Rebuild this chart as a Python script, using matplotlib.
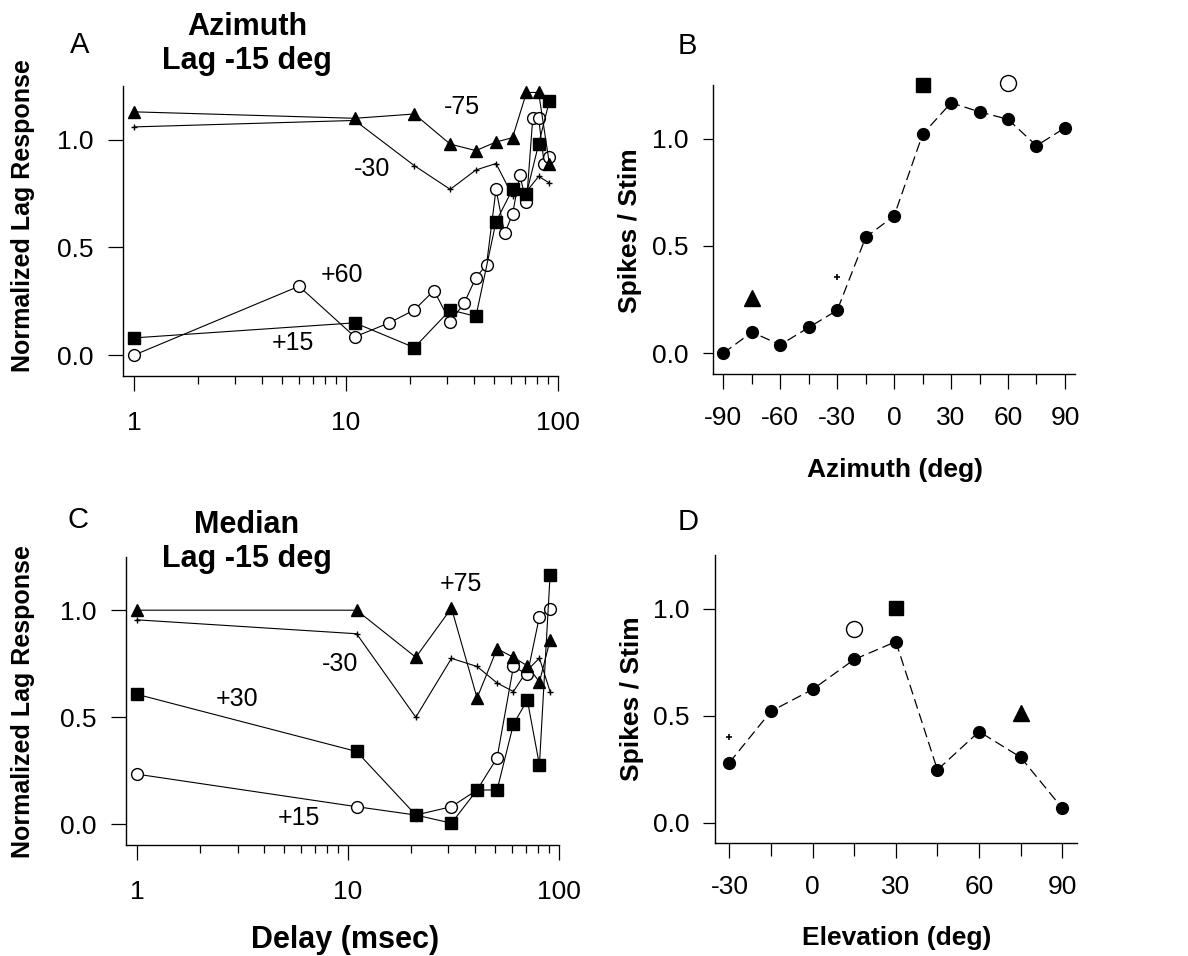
import numpy as np
import matplotlib
matplotlib.use('Agg')
import matplotlib.pyplot as plt
from matplotlib.ticker import FixedLocator, NullFormatter

plt.rcParams['font.family'] = ['Liberation Sans', 'DejaVu Sans']

# delays (msec)
delay10 = [1, 11, 21, 31, 41, 51, 61, 71, 81, 91]
delay5 = [1, 6, 11, 16, 21, 26, 31, 36, 41, 46, 51, 56, 61, 66, 71, 76, 81, 86, 91]

# panel A - azimuth, lag -15 deg
a_m75 = [1.13, 1.10, 1.12, 0.98, 0.95, 0.99, 1.01, 1.22, 1.22, 0.89]
a_m30 = [1.06, 1.09, 0.88, 0.77, 0.86, 0.89, 0.74, 0.76, 0.83, 0.80]
a_p15 = [0.08, 0.15, 0.035, 0.21, 0.18, 0.62, 0.77, 0.75, 0.98, 1.18]
a_p60 = [0.0, 0.32, 0.085, 0.15, 0.21, 0.30, 0.155, 0.24, 0.36, 0.42,
         0.77, 0.565, 0.655, 0.835, 0.71, 1.10, 1.10, 0.89, 0.92]

# panel C - median, lag -15 deg
c_p75 = [1.0, 1.0, 0.78, 1.01, 0.59, 0.82, 0.78, 0.74, 0.665, 0.86]
c_m30 = [0.955, 0.89, 0.50, 0.775, 0.737, 0.66, 0.62, 0.72, 0.776, 0.62]
c_p30 = [0.607, 0.34, 0.043, 0.005, 0.16, 0.16, 0.468, 0.58, 0.277, 1.165]
c_p15 = [0.234, 0.082, 0.043, 0.082, 0.16, 0.31, 0.737, 0.70, 0.97, 1.005]

# panel B - spikes vs azimuth
azim = [-90, -75, -60, -45, -30, -15, 0, 15, 30, 45, 60, 75, 90]
b_rate = [0.0, 0.098, 0.039, 0.12, 0.20, 0.54, 0.64, 1.02, 1.167, 1.125, 1.09, 0.967, 1.05]
b_sym_x = [-75, -30, 15, 60]
b_sym_y = [0.257, 0.353, 1.252, 1.26]

# panel D - spikes vs elevation
elev = [-30, -15, 0, 15, 30, 45, 60, 75, 90]
d_rate = [0.28, 0.52, 0.622, 0.762, 0.845, 0.246, 0.425, 0.305, 0.067]
d_sym_x = [-30, 15, 30, 75]
d_sym_y = [0.40, 0.904, 1.003, 0.51]

# symbols: triangle, plus, square, open circle
sym_tri = dict(marker='^', color='k', ms=9, mfc='k', mec='k')
sym_plus = dict(marker='+', color='k', ms=4, mew=1.0)
sym_sq = dict(marker='s', color='k', ms=8.5, mfc='k', mec='k')
sym_circ = dict(marker='o', color='k', ms=8.5, mfc='white', mec='k', mew=1.0)

W, H = 1188, 956
fig = plt.figure(figsize=(W / 100, H / 100), dpi=100)


def px(x, y):
    return x / W, 1 - y / H


def style_axes(ax):
    ax.spines['top'].set_visible(False)
    ax.spines['right'].set_visible(False)
    ax.spines['left'].set_linewidth(1.0)
    ax.spines['bottom'].set_linewidth(1.0)
    ax.set_ylim(-0.097, 1.25)
    ax.set_yticks([0.0, 0.5, 1.0])
    ax.set_yticklabels(['0.0', '0.5', '1.0'])
    for lab in ax.get_xticklabels() + ax.get_yticklabels():
        lab.set_fontsize(19)


def delay_axes(rect):
    ax = fig.add_axes(rect)
    ax.set_xscale('log')
    ax.set_xlim(0.887, 100.3)
    ax.xaxis.set_major_locator(FixedLocator([1, 10, 100]))
    ax.xaxis.set_minor_locator(FixedLocator([2, 3, 4, 5, 6, 7, 8, 9, 20, 30, 40, 50, 60, 70, 80, 90]))
    ax.xaxis.set_minor_formatter(NullFormatter())
    ax.set_xticks([1, 10, 100])
    ax.set_xticklabels(['1', '10', '100'])
    ax.tick_params(axis='x', which='major', length=11, width=0.9, pad=14, direction='out')
    ax.tick_params(axis='x', which='minor', length=6, width=0.9, direction='out')
    ax.tick_params(axis='y', length=11, width=0.9, pad=10, direction='out')
    style_axes(ax)
    return ax


lw = 0.8

# ---------- A ----------
axA = delay_axes([0.10354, 0.60669, 0.36641, 0.30335])
axA.plot(delay10, a_m30, lw=lw, **sym_plus)
axA.plot(delay5, a_p60, lw=lw, **sym_circ)
axA.plot(delay10, a_p15, lw=lw, **sym_sq)
axA.plot(delay10, a_m75, lw=lw, **sym_tri)
for t, x, y in [('-75', 35.1, 1.153), ('-30', 13.2, 0.864), ('+60', 9.55, 0.374), ('+15', 5.64, 0.054)]:
    axA.text(x, y, t, fontsize=18, ha='center', va='center')

# ---------- C ----------
axC = delay_axes([0.10606, 0.11611, 0.36448, 0.30157])
axC.plot(delay10, c_m30, lw=lw, **sym_plus)
axC.plot(delay10, c_p15, lw=lw, **sym_circ)
axC.plot(delay10, c_p30, lw=lw, **sym_sq)
axC.plot(delay10, c_p75, lw=lw, **sym_tri)
for t, x, y in [('+75', 34.3, 1.123), ('-30', 9.2, 0.75), ('+30', 2.97, 0.584), ('+15', 5.84, 0.028)]:
    axC.text(x, y, t, fontsize=18, ha='center', va='center')

# ---------- B ----------
axB = fig.add_axes([0.60042, 0.60879, 0.30446, 0.3023])
axB.plot(azim, b_rate, color='k', lw=0.9, ls=(0, (8, 4)), marker='o', ms=8.5, mfc='k', mec='k')
axB.set_xlim(-95.3, 95.3)
axB.set_xticks([-90, -60, -30, 0, 30, 60, 90])
axB.set_xticks([-75, -45, -15, 15, 45, 75], minor=True)
axB.set_xticklabels(['-90', '-60', '-30', '0', '30', '60', '90'])
axB.tick_params(axis='x', which='major', length=11, width=0.9, pad=12)
axB.tick_params(axis='x', which='minor', length=7, width=0.9)
axB.tick_params(axis='y', length=7.5, width=0.9, pad=10)
style_axes(axB)
bsyms = [dict(marker='^', ms=12), dict(marker='+', ms=5, mew=1.2),
         dict(marker='s', ms=10.5), dict(marker='o', ms=11.5, mfc='white', mew=1.0)]
for x, y, s in zip(b_sym_x, b_sym_y, bsyms):
    kw = dict(color='k', mfc='k', mec='k', ls='none', clip_on=False)
    kw.update(s)
    axB.plot([x], [y], **kw)

# ---------- D ----------
axD = fig.add_axes([0.60185, 0.11789, 0.30446, 0.30157])
axD.plot(elev, d_rate, color='k', lw=0.9, ls=(0, (8, 4)), marker='o', ms=8.5, mfc='k', mec='k')
axD.set_xlim(-35.2, 95.2)
axD.set_xticks([-30, 0, 30, 60, 90])
axD.set_xticks([-15, 15, 45, 75], minor=True)
axD.set_xticklabels(['-30', '0', '30', '60', '90'])
axD.tick_params(axis='x', which='major', length=11, width=0.9, pad=12)
axD.tick_params(axis='x', which='minor', length=9, width=0.9)
axD.tick_params(axis='y', length=8.5, width=0.9, pad=10)
style_axes(axD)
dsyms = [dict(marker='+', ms=5, mew=1.2), dict(marker='o', ms=11.5, mfc='white', mew=1.0),
         dict(marker='s', ms=10.5), dict(marker='^', ms=12)]
for x, y, s in zip(d_sym_x, d_sym_y, dsyms):
    kw = dict(color='k', mfc='k', mec='k', ls='none', clip_on=False)
    kw.update(s)
    axD.plot([x], [y], **kw)

# ---------- text ----------
for t, x, y in [('A', 80, 45), ('B', 687, 46), ('C', 78, 520), ('D', 688, 522)]:
    fig.text(*px(x, y), t, fontsize=21, ha='center', va='center')

fig.text(*px(247, 44), 'Azimuth\nLag -15 deg', fontsize=22, fontweight='bold',
         ha='center', va='center', linespacing=1.15)
fig.text(*px(247, 542), 'Median\nLag -15 deg', fontsize=22, fontweight='bold',
         ha='center', va='center', linespacing=1.15)

fig.text(*px(23, 216), 'Normalized Lag Response', fontsize=18, fontweight='bold',
         rotation=90, ha='center', va='center')
fig.text(*px(23, 702), 'Normalized Lag Response', fontsize=18, fontweight='bold',
         rotation=90, ha='center', va='center')
fig.text(*px(630, 231), 'Spikes / Stim', fontsize=19, fontweight='bold',
         rotation=90, ha='center', va='center')
fig.text(*px(632, 699), 'Spikes / Stim', fontsize=19, fontweight='bold',
         rotation=90, ha='center', va='center')
fig.text(*px(895, 470), 'Azimuth (deg)', fontsize=19, fontweight='bold', ha='center', va='center')
fig.text(*px(897, 938), 'Elevation (deg)', fontsize=19, fontweight='bold', ha='center', va='center')
fig.text(*px(345, 940), 'Delay (msec)', fontsize=22, fontweight='bold', ha='center', va='center')

fig.savefig('out.png', dpi=100)
print("done!")
